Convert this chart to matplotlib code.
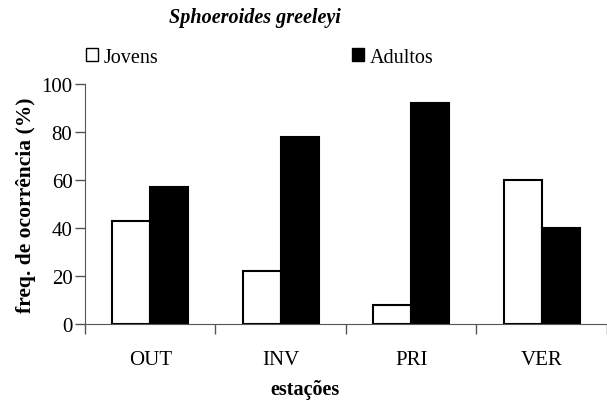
import numpy as np
import matplotlib
matplotlib.use("Agg")
import matplotlib.pyplot as plt
from matplotlib.patches import Patch

plt.rcParams['font.family'] = ['Liberation Serif', 'DejaVu Serif']

estacoes = ['OUT', 'INV', 'PRI', 'VER']
jovens = [43, 22, 8, 60]
adultos = [57, 78, 92, 40]

fig = plt.figure(figsize=(6.07, 4.02), dpi=100)
ax = fig.add_axes([0.14, 0.1915, 0.86, 0.597])

x = np.arange(len(estacoes))
w = 0.29
ax.bar(x - w/2, jovens, w, color='white', edgecolor='black', linewidth=1.5)
ax.bar(x + w/2, adultos, w, color='black', edgecolor='black', linewidth=1.5)

ax.set_xlim(-0.5, len(estacoes) - 0.5)
ax.set_ylim(0, 100)
ax.set_yticks([0, 20, 40, 60, 80, 100])
ax.set_xticks(np.arange(-0.5, len(estacoes)), minor=False)
ax.set_xticklabels([])
ax.set_xticks(x, minor=True)
ax.set_xticklabels(estacoes, minor=True)
ax.tick_params(axis='x', which='major', direction='out', length=7, width=1, color='#555555')
ax.tick_params(axis='x', which='minor', length=0, pad=19, labelsize=15)
ax.tick_params(axis='y', direction='out', length=7, width=1, color='#555555', labelsize=15, pad=2)
for s in ['top', 'right']:
    ax.spines[s].set_visible(False)
ax.spines['left'].set_color('#555555')
ax.spines['bottom'].set_color('#555555')

ax.set_ylabel('freq. de ocorrência (%)', fontsize=15.5, fontweight='bold', labelpad=4)
fig.text(0.503, 0.005, 'estações', fontsize=14.5, fontweight='bold', ha='center', va='bottom')
fig.text(0.42, 0.93, 'Sphoeroides greeleyi', fontsize=14.5, fontweight='bold',
         fontstyle='italic', ha='center', va='bottom')

handles = [Patch(facecolor='white', edgecolor='black', linewidth=1),
           Patch(facecolor='black', edgecolor='black', linewidth=1)]
fig.legend(handles, ['Jovens', 'Adultos'], ncol=2, frameon=False, fontsize=14.5,
           loc='center left', bbox_to_anchor=(0.141, 0.855), handlelength=0.6,
           handleheight=0.6, handletextpad=0.3, columnspacing=9.6, borderpad=0,
           borderaxespad=0)

fig.savefig('out.png', dpi=100)
